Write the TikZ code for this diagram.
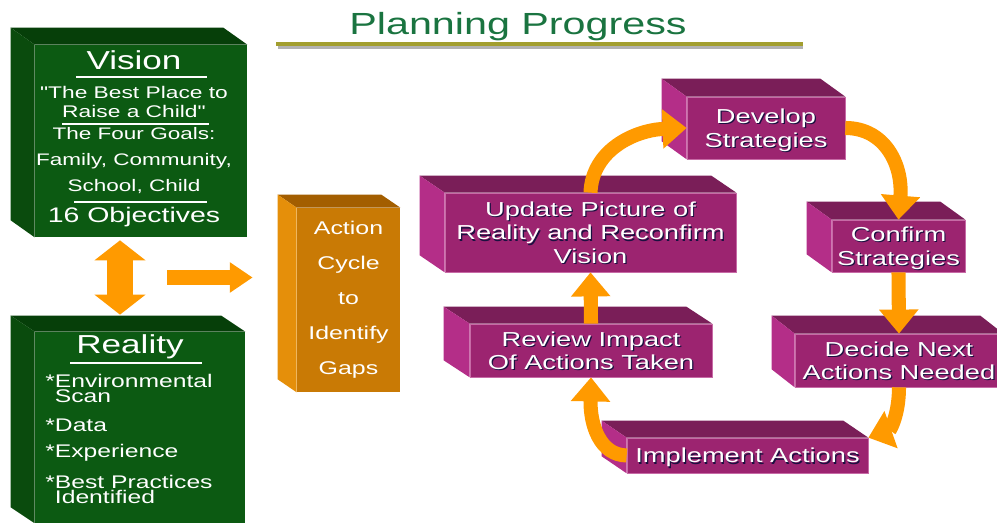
\documentclass[tikz,border=0pt]{standalone}
\usepackage{fontspec}
\usetikzlibrary{arrows.meta}
\newfontfamily\slidefont[FakeStretch=1.35]{Liberation Sans}
\definecolor{gfront}{HTML}{0C5A12}
\definecolor{gtop}{HTML}{063F09}
\definecolor{gside}{HTML}{0A4B0D}
\definecolor{ofront}{HTML}{C97A05}
\definecolor{otop}{HTML}{A35E00}
\definecolor{oside}{HTML}{E58F0A}
\definecolor{pfront}{HTML}{9C2470}
\definecolor{ptop}{HTML}{7A1E58}
\definecolor{pside}{HTML}{B42E88}
\definecolor{pborder}{HTML}{C76AA6}
\definecolor{pshade}{HTML}{1A1040}
\definecolor{arrowc}{HTML}{FF9A00}
\definecolor{titlec}{HTML}{1A7440}
\definecolor{barc}{HTML}{A29E2E}
\newcommand\shd[1]{\leavevmode\rlap{\kern0.7pt\raisebox{-0.7pt}{\color{pshade}#1}}#1}

\begin{document}
\begin{tikzpicture}[x=0.02cm,y=-0.02cm,
  pbox/.style={fill=pfront,draw=pborder,line width=0.4pt,text=white,align=center,inner sep=0pt,
    text depth=0pt,font=\slidefont\fontsize{11.5}{13.4}\selectfont},
  gbox/.style={fill=gfront,inner sep=0pt},
  obox/.style={fill=ofront,text=white,align=center,inner sep=0pt,
    font=\slidefont\fontsize{10.5}{19.9}\selectfont},
  txt/.style={text=white,inner sep=0pt,align=center},
  flow/.style={draw=arrowc,line width=8pt,-{Triangle[width=21.6pt,length=13.7pt]}}]
    \useasboundingbox (0,0) rectangle (997,523);
    \fill[white] (0,0) rectangle (997,523);
    \clip (0,0) rectangle (997,523);
    %title
    \node[text=titlec,inner sep=0pt,font=\slidefont\fontsize{17.4}{20}\selectfont] (title) at (518,27) {Planning Progress};
    \fill[gray!60] (278,46) rectangle (803,49);
    \fill[barc] (276,42) rectangle (803,46.5);
    %boxes
    \node[gbox,minimum width=4.24cm,minimum height=3.84cm] (vision) at (141,141) {};
    \node[gbox,minimum width=4.20cm,minimum height=3.82cm] (reality) at (140,427.5) {};
    \node[obox,minimum width=2.06cm,minimum height=3.68cm] (action) at (348.5,300)
      {Action\\Cycle\\to\\Identify\\Gaps};
    \node[pbox,minimum width=3.16cm,minimum height=1.24cm] (develop) at (766,128)
      {\shd{Develop}\\\shd{Strategies}};
    \node[pbox,minimum width=5.82cm,minimum height=1.58cm] (update) at (590.5,232.5)
      {\shd{Update Picture of}\\\shd{Reality and Reconfirm}\\\shd{Vision}};
    \node[pbox,minimum width=2.66cm,minimum height=1.04cm] (confirm) at (898.5,246)
      {\shd{Confirm}\\\shd{Strategies}};
    \node[pbox,minimum width=4.16cm,minimum height=1.06cm] (decide) at (899,360.5)
      {\shd{Decide Next}\\\shd{Actions Needed}};
    \node[pbox,minimum width=4.84cm,minimum height=1.06cm] (review) at (591,350.5)
      {\shd{Review Impact}\\\shd{Of Actions Taken}};
    \node[pbox,minimum width=4.82cm,minimum height=0.70cm] (implement) at (747.5,455.5)
      {\shd{Implement Actions}};
    %3d faces
    \foreach \b/\topc/\sidec/\dx/\dy in {vision/gtop/gside/-24/-17,reality/gtop/gside/-24/-16,
        action/otop/oside/-19/-13,develop/ptop/pside/-25/-18,update/ptop/pside/-25/-17,
        confirm/ptop/pside/-25/-18,decide/ptop/pside/-23/-18,review/ptop/pside/-26/-17,
        implement/ptop/pside/-25/-17}{
      \fill[\topc] (\b.north west) -- ++(\dx,\dy) -- ([shift={(\dx,\dy)}]\b.north east) -- (\b.north east) -- cycle;
      \fill[\sidec] (\b.north west) -- ++(\dx,\dy) -- ([shift={(\dx,\dy)}]\b.south west) -- (\b.south west) -- cycle;
    }
    %vision text
    \node[txt,font=\slidefont\fontsize{14.8}{17}\selectfont] (vhead) at (134,60) {Vision};
    \draw[white,line width=0.6pt] (76,77) -- (207,77);
    \node[txt,font=\slidefont\fontsize{9.6}{10.8}\selectfont] (vquote) at (134,102) {"The Best Place to\\Raise a Child"};
    \draw[white,line width=0.6pt] (62,124) -- (209,124);
    \node[txt,font=\slidefont\fontsize{9.5}{14.8}\selectfont] (vgoals) at (134,161) {The Four Goals:\\Family, Community,\\School, Child};
    \draw[white,line width=0.6pt] (74,202) -- (207,202);
    \node[txt,font=\slidefont\fontsize{12}{14}\selectfont] (vobj) at (134,217) {16 Objectives};
    %reality text
    \node[txt,font=\slidefont\fontsize{14.8}{17}\selectfont] (rhead) at (130,347) {Reality};
    \draw[white,line width=0.6pt] (70,363) -- (202,363);
    \tikzset{item/.style={txt,align=left,anchor=west,font=\slidefont\fontsize{10.4}{9}\selectfont}}
    \node[item] (rscan) at (45,388.5) {*Environmental\\\phantom{*}Scan};
    \node[item] (rdata) at (45,425) {*Data};
    \node[item] (rexp) at (45,453) {*Experience};
    \node[item] (rbest) at (45,489.5) {*Best Practices\\\phantom{*}Identified};
    %arrows
    \draw[draw=arrowc,line width=14.8pt,{Triangle[width=28.5pt,length=11.4pt]}-{Triangle[width=28.5pt,length=11.4pt]}]
      ([shift={(-21,3)}]vision.south) -- ([shift={(-20,-17)}]reality.north);
    \coordinate (feed) at (167,277.5);
    \draw[draw=arrowc,line width=8.5pt,-{Triangle[width=16.5pt,length=13pt]}]
      (feed) -- ([shift={(-44,-22.5)}]action.west);
    \draw[flow] (update.north) .. controls (592,150) and (635,130) .. (develop.west);
    \draw[flow] (develop.east) .. controls (885,128) and (903,165) .. (confirm.north);
    \draw[flow] (confirm.south) -- (decide.north);
    \draw[flow] (decide.south) .. controls (899,415) and (890,430) .. (implement.north east);
    \draw[flow] (implement.west) .. controls (600,455) and (590,425) .. (review.south);
    \draw[flow] (review.north) -- (update.south);
\end{tikzpicture}
\end{document}
